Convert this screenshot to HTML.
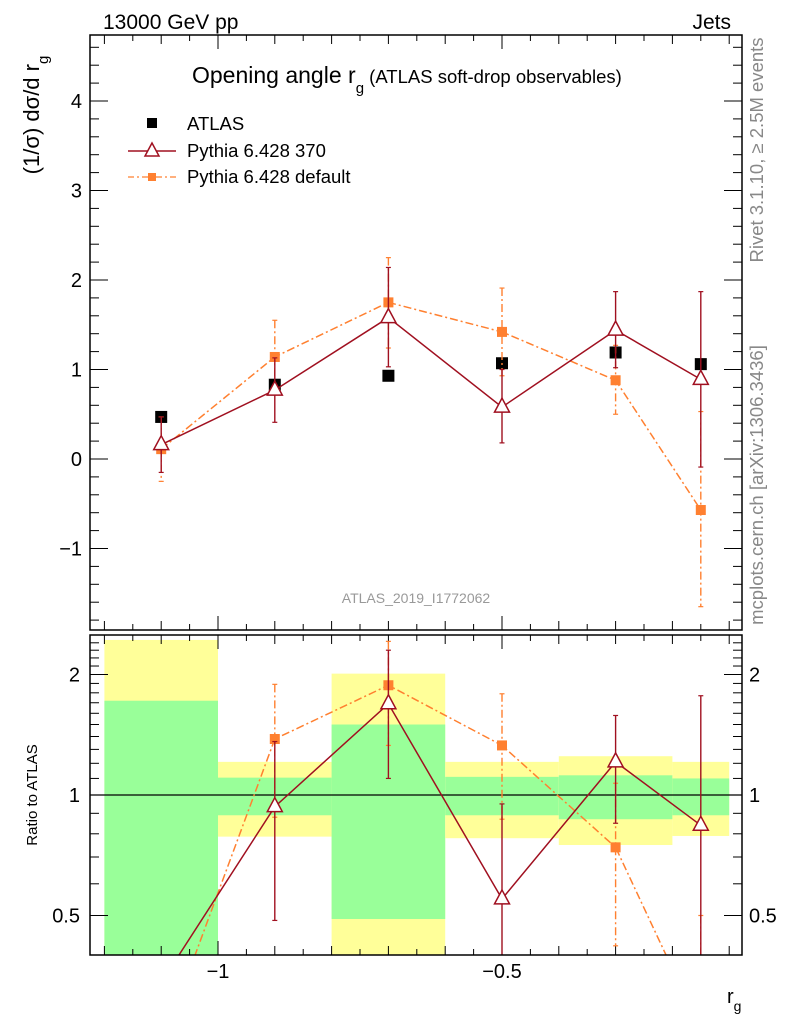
<!DOCTYPE html>
<html><head><meta charset="utf-8">
<style>
html,body{margin:0;padding:0;background:#fff;}
svg{display:block;font-family:"Liberation Sans","DejaVu Sans",sans-serif;}
</style></head>
<body>
<svg id="chart" width="786" height="1024" viewBox="0 0 786 1024" xmlns="http://www.w3.org/2000/svg">
<defs>
<clipPath id="clipMain"><rect x="90" y="35" width="652" height="595"/></clipPath>
<clipPath id="clipRatio"><rect x="90" y="635" width="652" height="320"/></clipPath>
</defs>
<g id="bands" clip-path="url(#clipRatio)"></g>
<g id="grid"></g>
<g id="series"></g>
<rect x="90" y="35" width="652" height="595" fill="none" stroke="#000" stroke-width="1.5"/>
<rect x="90" y="635" width="652" height="320" fill="none" stroke="#000" stroke-width="1.5"/>
<text x="103" y="29" font-size="21">13000 GeV pp</text>
<text x="731" y="29" font-size="21" text-anchor="end">Jets</text>
<text x="192" y="83" font-size="23">Opening angle r<tspan font-size="15" dy="10">g</tspan><tspan font-size="18.5" dy="-10"> (ATLAS soft-drop observables)</tspan></text>
<text transform="translate(39,115) rotate(-90)" font-size="22" text-anchor="middle">(1/σ) dσ/d r<tspan font-size="15" dy="9">g</tspan></text>
<text transform="translate(37,795) rotate(-90)" font-size="15" text-anchor="middle">Ratio to ATLAS</text>
<text x="727" y="1003" font-size="20">r<tspan font-size="14" dy="8">g</tspan></text>
<text transform="translate(763,150) rotate(-90)" font-size="18.5" fill="#888" text-anchor="middle">Rivet 3.1.10, ≥ 2.5M events</text>
<text transform="translate(763,485) rotate(-90)" font-size="18.5" fill="#888" text-anchor="middle">mcplots.cern.ch [arXiv:1306.3436]</text>
<text x="416" y="603" font-size="14" fill="#999" text-anchor="middle">ATLAS_2019_I1772062</text>
<g>
<rect x="147" y="118" width="10" height="10" fill="#000"/>
<text x="187" y="130" font-size="18.5">ATLAS</text>
<line x1="128" y1="151" x2="176" y2="151" stroke="#a01020" stroke-width="1.5"/>
<path d="M152 143 L159 156 L145 156 Z" fill="#fff" stroke="#a01020" stroke-width="1.5"/>
<text x="187" y="157" font-size="18.5">Pythia 6.428 370</text>
<line x1="128" y1="177" x2="176" y2="177" stroke="#ff8030" stroke-width="1.3" stroke-dasharray="6,3,2,3"/>
<rect x="148" y="173" width="8" height="8" fill="#ff8030"/>
<text x="187" y="183" font-size="18.5">Pythia 6.428 default</text>
</g>
</svg>
<script>
// ---- data ----
const binEdges = [-1.2, -1.0, -0.8, -0.6, -0.4, -0.2, -0.1];
const binCenters = [-1.1, -0.9, -0.7, -0.5, -0.3, -0.15];
const atlasValues = [0.47, 0.83, 0.93, 1.07, 1.19, 1.06];
const p370Values = [0.16, 0.77, 1.58, 0.58, 1.44, 0.89];
const p370Low = [-0.15, 0.41, 1.03, 0.18, 1.02, -0.09];
const p370High = [0.47, 1.13, 2.14, 1.0, 1.87, 1.87];
const defValues = [0.11, 1.14, 1.75, 1.42, 0.88, -0.57];
const defLow = [-0.25, 0.72, 1.24, 0.93, 0.50, -1.65];
const defHigh = [0.47, 1.55, 2.25, 1.91, 1.27, 0.53];
const ratio370 = [0.34, 0.935, 1.69, 0.55, 1.21, 0.84];
const ratio370Low = [0.2, 0.486, 1.10, 0.2, 0.85, 0.2];
const ratio370High = [0.38, 1.36, 2.3, 0.95, 1.58, 1.77];
const ratioDef = [0.235, 1.38, 1.88, 1.33, 0.74, 0.26];
const ratioDefLow = [0.2, 0.88, 1.33, 0.87, 0.42, 0.2];
const ratioDefHigh = [0.38, 1.89, 2.42, 1.79, 1.07, 0.50];
const greenLow = [0.2, 0.89, 0.49, 0.89, 0.87, 0.89];
const greenHigh = [1.72, 1.105, 1.50, 1.11, 1.12, 1.10];
const yellowLow = [0.2, 0.787, 0.2, 0.78, 0.75, 0.79];
const yellowHigh = [2.44, 1.21, 2.01, 1.21, 1.25, 1.21];
const mainYTicks = [-1, 0, 1, 2, 3, 4];
const ratioYTicks = [0.5, 1, 2];
const ratioYTickLabels = ["0.5", "1", "2"];
const xTickLabels = [[-1, "−1"], [-0.5, "−0.5"]];

// ---- axes ----
const X = v => 218 + (v + 1) * 568;
const Y = v => 459 - v * 89.5;
const R = v => 795 - 120.5 * Math.log2(v);
const NS = "http://www.w3.org/2000/svg";
function mk(tag, attrs, parent) {
  const e = document.createElementNS(NS, tag);
  for (const k in attrs) e.setAttribute(k, attrs[k]);
  parent.appendChild(e);
  return e;
}
const grid = document.getElementById('grid');
const series = document.getElementById('series');
const bands = document.getElementById('bands');

for (let i = 0; i < binCenters.length; i++) {
  const x0 = X(binEdges[i]), x1 = X(binEdges[i + 1]);
  const y = mk('rect', {x: x0, y: R(yellowHigh[i]), width: x1 - x0, height: R(yellowLow[i]) - R(yellowHigh[i]), fill: '#ffff99'}, bands);
  
  
  const g = mk('rect', {x: x0, y: R(greenHigh[i]), width: x1 - x0, height: R(greenLow[i]) - R(greenHigh[i]), fill: '#99ff99'}, bands);
  
  
}
mk('line', {x1: 90, y1: R(1), x2: 742, y2: R(1), stroke: '#000', 'stroke-width': 1.2}, grid);

for (let k = -24; k <= -2; k++) {
  const v = k * 0.05;
  const x = X(v);
  if (x < 91 || x > 741) continue;
  const major = Math.abs(v * 2 - Math.round(v * 2)) < 1e-6;
  const med = Math.abs(v * 10 - Math.round(v * 10)) < 1e-6;
  const len = major ? 14 : (med ? 9 : 6);
  for (const [top, bot] of [[35, 630], [635, 955]]) {
    mk('line', {x1: x, y1: top, x2: x, y2: top + len, stroke: '#000', 'stroke-width': 1}, grid);
    mk('line', {x1: x, y1: bot, x2: x, y2: bot - len, stroke: '#000', 'stroke-width': 1}, grid);
  }
}
for (const [v, s] of xTickLabels) {
  const t = mk('text', {x: X(v), y: 978, 'font-size': 20, 'text-anchor': 'middle'}, grid);
  
  
  t.textContent = s;
}
for (let k = -9; k <= 23; k++) {
  const v = k * 0.2;
  const y = Y(v);
  if (y < 36 || y > 629) continue;
  const major = Math.abs(v - Math.round(v)) < 1e-6;
  const len = major ? 18 : 9;
  mk('line', {x1: 90, y1: y, x2: 90 + len, y2: y, stroke: '#000', 'stroke-width': 1}, grid);
  mk('line', {x1: 742, y1: y, x2: 742 - len, y2: y, stroke: '#000', 'stroke-width': 1}, grid);
}
for (const v of mainYTicks) {
  const t = mk('text', {x: 82, y: Y(v) + 7, 'font-size': 20, 'text-anchor': 'end'}, grid);
  
  
  t.textContent = v < 0 ? '−' + Math.abs(v) : String(v);
}
for (let k = 4; k <= 24; k++) {
  const v = k / 10;
  const y = R(v);
  if (y < 636 || y > 954) continue;
  const major = (k === 5 || k === 10 || k === 20);
  const len = major ? 18 : 9;
  mk('line', {x1: 90, y1: y, x2: 90 + len, y2: y, stroke: '#000', 'stroke-width': 1}, grid);
  mk('line', {x1: 742, y1: y, x2: 742 - len, y2: y, stroke: '#000', 'stroke-width': 1}, grid);
}
ratioYTicks.forEach((v, i) => {
  const t = mk('text', {x: 80, y: R(v) + 7, 'font-size': 20, 'text-anchor': 'end'}, grid);
  
  
  t.textContent = ratioYTickLabels[i];
  const t2 = mk('text', {x: 749, y: R(v) + 7, 'font-size': 20}, grid);
  
  
  t2.textContent = ratioYTickLabels[i];
});

const gm = mk('g', {'clip-path': 'url(#clipMain)'}, series);
const gr = mk('g', {'clip-path': 'url(#clipRatio)'}, series);
function drawSeries(parent, yf, vals, lo, hi, color, dash, marker, name) {
  for (let i = 0; i < vals.length; i++) {
    const x = X(binCenters[i]);
    const e = mk('line', {x1: x, y1: yf(hi[i]), x2: x, y2: yf(lo[i]), stroke: color, 'stroke-width': 1.4, 'stroke-dasharray': dash || 'none'}, parent);
    
    
    mk('line', {x1: x - 2.5, y1: yf(hi[i]), x2: x + 2.5, y2: yf(hi[i]), stroke: color, 'stroke-width': 1.2}, parent);
    mk('line', {x1: x - 2.5, y1: yf(lo[i]), x2: x + 2.5, y2: yf(lo[i]), stroke: color, 'stroke-width': 1.2}, parent);
  }
  const pts = vals.map((v, i) => X(binCenters[i]) + ',' + yf(v)).join(' ');
  const pl = mk('polyline', {points: pts, fill: 'none', stroke: color, 'stroke-width': 1.5, 'stroke-dasharray': dash || 'none'}, parent);
  
  
  for (let i = 0; i < vals.length; i++) {
    const x = X(binCenters[i]), y = yf(vals[i]);
    let m;
    if (marker === 'tri') m = mk('path', {d: `M${x} ${y - 9} L${x + 7.5} ${y + 5} L${x - 7.5} ${y + 5} Z`, fill: '#fff', stroke: color, 'stroke-width': 1.5}, parent);
    else m = mk('rect', {x: x - 5, y: y - 5, width: 10, height: 10, fill: color}, parent);
    
    
  }
}
for (let i = 0; i < atlasValues.length; i++) {
  const m = mk('rect', {x: X(binCenters[i]) - 6, y: Y(atlasValues[i]) - 6, width: 12, height: 12, fill: '#000'}, gm);
  
  
}
drawSeries(gm, Y, defValues, defLow, defHigh, '#ff8030', '8,3,2,3', 'sq', 'pythia-default');
drawSeries(gm, Y, p370Values, p370Low, p370High, '#a01020', null, 'tri', 'pythia-370');
drawSeries(gr, R, ratioDef, ratioDefLow, ratioDefHigh, '#ff8030', '8,3,2,3', 'sq', 'ratio-pythia-default');
drawSeries(gr, R, ratio370, ratio370Low, ratio370High, '#a01020', null, 'tri', 'ratio-pythia-370');
</script>
</body></html>
